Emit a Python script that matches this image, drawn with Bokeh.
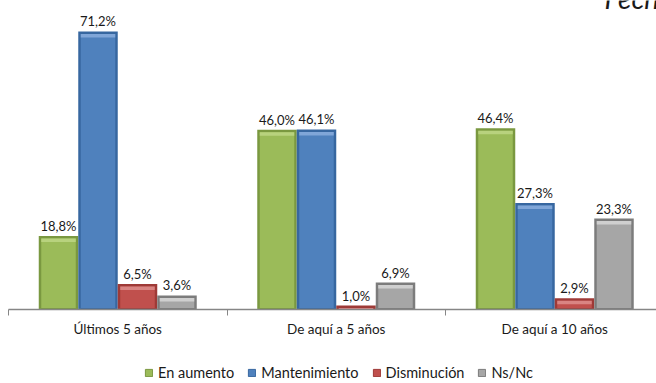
import numpy as np
from bokeh.plotting import figure
from bokeh.layouts import column
from bokeh.models import ColumnDataSource, FixedTicker, Range1d, Legend, LegendItem, Label
from bokeh.core.properties import value
from bokeh.embed import file_html
from bokeh.resources import INLINE

categories = ["Últimos 5 años", "De aquí a 5 años", "De aquí a 10 años"]
series = ["En aumento", "Mantenimiento", "Disminución", "Ns/Nc"]
en_aumento = [18.8, 46.0, 46.4]
mantenimiento = [71.2, 46.1, 27.3]
disminucion = [6.5, 1.0, 2.9]
ns_nc = [3.6, 6.9, 23.3]
values = [en_aumento, mantenimiento, disminucion, ns_nc]

main_colors = ["#9BBB59", "#4F81BD", "#C0504D", "#A6A6A6"]
dark_colors = ["#7A9840", "#3767A0", "#9E3A37", "#7C7C7C"]
light_colors = ["#B8D27E", "#80A6D8", "#D98583", "#CFCFCF"]

FONT = "Lato"
TXT = "#1a1a1a"
px_x = 218.5   # pixels per category
px_y = 3.905   # pixels per percent
left_pad = 8
frame_w, frame_h = 656 - left_pad, 309
bottom_h = 37
legend_h = 383 - frame_h - bottom_h

p = figure(width=656, height=frame_h + bottom_h, output_backend="svg",
           toolbar_location=None, y_axis_location=None,
           x_range=Range1d(0, frame_w / px_x), y_range=Range1d(0, frame_h / px_y),
           min_border_left=left_pad, min_border_right=0, min_border_top=0,
           min_border_bottom=bottom_h)
p.outline_line_color = None
p.grid.visible = False

# legend strip below the chart (its renderers are hidden; only their legend swatches show)
pl = figure(width=656, height=legend_h, output_backend="svg", toolbar_location=None,
            x_axis_location=None, y_axis_location=None, min_border=0,
            x_range=p.x_range, y_range=Range1d(0, 1))
pl.outline_line_color = None
pl.grid.visible = False

bar_w = 39.5 / px_x
ins_x = 2.5 / px_x
ins_y = 2.5 / px_y
centers = np.arange(len(categories)) + 0.5

items = []
for i, name in enumerate(series):
    vals = np.array(values[i])
    xs = centers + (i - 1.5) * bar_w
    src = ColumnDataSource(dict(x=xs, top=vals,
                                itop=np.maximum(vals - ins_y, 0.0),
                                ibot=np.minimum(np.full_like(vals, ins_y * 0.6), vals),
                                htop=np.maximum(vals - ins_y, 0.0),
                                hbot=np.maximum(vals - 2.4 * ins_y, 0.0),
                                label=[f"{v:.1f}".replace(".", ",") + "%" for v in vals]))
    p.vbar(x="x", top="top", bottom=0, width=bar_w, source=src,
           fill_color=dark_colors[i], line_color=None)
    p.vbar(x="x", top="itop", bottom="ibot", width=bar_w - 2 * ins_x, source=src,
           fill_color=main_colors[i], line_color=None)
    p.vbar(x="x", top="htop", bottom="hbot", width=bar_w - 2 * ins_x, source=src,
           fill_color=light_colors[i], line_color=None)
    p.text(x="x", y="top", text="label", source=src, text_align="center",
           text_baseline="bottom", y_offset=-2, text_font=value(FONT),
           text_font_size="13px", text_color=TXT)
    r = pl.vbar(x="x", top="top", width=bar_w, source=src, fill_color=main_colors[i],
                line_color=dark_colors[i], line_width=1, visible=False)
    items.append(LegendItem(label=name, renderers=[r]))

ax = p.xaxis[0]
ax.ticker = FixedTicker(ticks=list(centers), minor_ticks=list(np.arange(len(categories) + 1)))
ax.major_label_overrides = {float(c): lab for c, lab in zip(centers, categories)}
ax.major_tick_line_color = None
ax.major_tick_out = 0
ax.major_tick_in = 0
ax.minor_tick_out = 6
ax.minor_tick_in = 0
ax.minor_tick_line_color = "#868686"
ax.axis_line_color = "#868686"
ax.axis_line_width = 1.5
ax.major_label_standoff = 5
ax.major_label_text_font = FONT
ax.major_label_text_font_size = "13.5px"
ax.major_label_text_color = TXT

p.add_layout(Label(x=(604 - left_pad) / px_x, y=(frame_h - 14) / px_y, text="Fecha",
                   text_font=FONT, text_font_style="italic", text_font_size="28px",
                   text_color=TXT, text_baseline="bottom"))

legend = Legend(items=items, orientation="horizontal", location=(136, 2),
                glyph_width=9, glyph_height=9, label_standoff=5, spacing=13,
                padding=0, margin=0, border_line_color=None, background_fill_alpha=0,
                inactive_fill_alpha=0,
                label_text_font=FONT, label_text_font_size="14.5px", label_text_color=TXT,
                label_height=14)
pl.add_layout(legend, "center")

layout = column(p, pl, spacing=0)
open("out.html", "w").write(file_html(layout, INLINE))
